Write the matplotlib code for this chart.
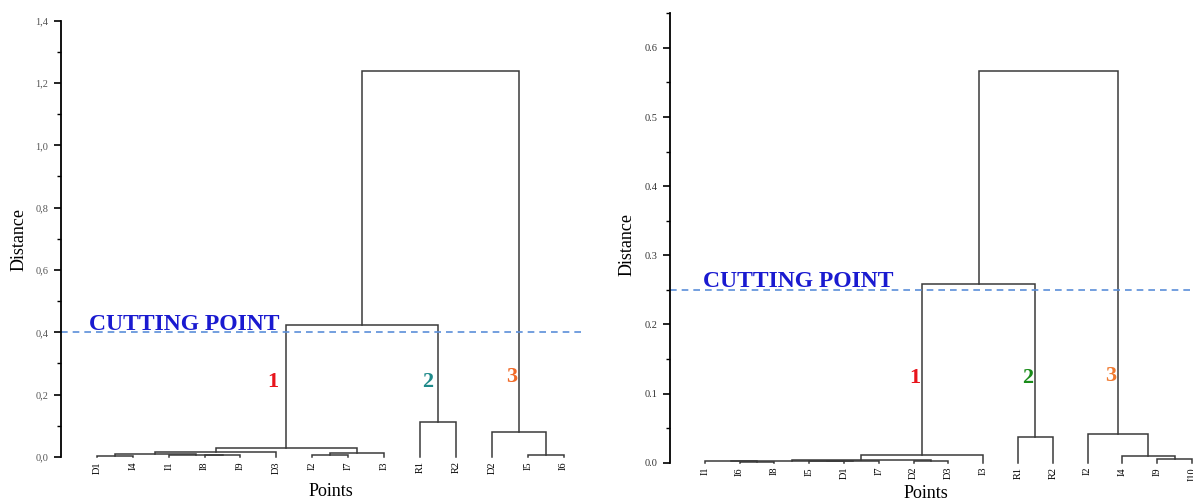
import matplotlib
matplotlib.use("Agg")
import matplotlib.pyplot as plt
from matplotlib.ticker import MultipleLocator, FuncFormatter

plt.rcParams['font.family'] = ['Liberation Serif', 'DejaVu Serif']

# left dendrogram: leaf order and merges (child a, child b, height)
# children are leaf names or the index of an earlier merge
left_leaves = ["D1", "I4", "I1", "I8", "I9", "D3", "I2", "I7", "I3",
               "R1", "R2", "D2", "I5", "I6"]
left_merges = [
    ("D1", "I4", 0.004),
    ("I8", "I9", 0.005),
    ("I1", 1, 0.007),
    (0, 2, 0.009),
    (3, "D3", 0.015),
    ("I2", "I7", 0.005),
    (5, "I3", 0.012),
    (4, 6, 0.029),
    ("R1", "R2", 0.113),
    ("I5", "I6", 0.005),
    ("D2", 9, 0.080),
    (7, 8, 0.424),
    (11, 10, 1.238),
]
left_cut = 0.40

# right dendrogram
right_leaves = ["I1", "I6", "I8", "I5", "D1", "I7", "D2", "D3", "I3",
                "R1", "R2", "I2", "I4", "I9", "I10"]
right_merges = [
    ("I6", "I8", 0.0015),
    ("I1", 0, 0.002),
    ("I5", "D1", 0.002),
    (2, "I7", 0.0025),
    (1, 3, 0.003),
    ("D2", "D3", 0.002),
    (4, 5, 0.004),
    (6, "I3", 0.011),
    ("R1", "R2", 0.0376),
    ("I9", "I10", 0.006),
    ("I4", 9, 0.009),
    ("I2", 10, 0.0415),
    (7, 8, 0.258),
    (12, 11, 0.567),
]
right_cut = 0.25

cluster_names = ["1", "2", "3"]
cluster_colors = ["#e8141c", "#1f8a8a", "#f06a28"]
right_cluster_colors = ["#e8141c", "#1a8c1a", "#f07a30"]


def draw_tree(ax, leaves, merges):
    pos = {name: i + 1 for i, name in enumerate(leaves)}
    nodes = []  # (x, height) of each merge

    def get(c):
        if isinstance(c, str):
            return pos[c], 0.0
        return nodes[c]

    for a, b, h in merges:
        xa, ha = get(a)
        xb, hb = get(b)
        ax.plot([xa, xa, xb, xb], [ha, h, h, hb], color="#3a3a3a",
                lw=1.1, solid_joinstyle="miter", clip_on=False)
        nodes.append(((xa + xb) / 2, h))
    ax.set_xticks(range(1, len(leaves) + 1))
    ax.set_xticklabels(leaves, rotation=90, fontsize=7.5)


def style_axis(ax, ymax, major, minor, fmt, labelcolor):
    for s in ["top", "right", "bottom"]:
        ax.spines[s].set_visible(False)
    ax.spines["left"].set_linewidth(1.3)
    ax.set_ylim(0, ymax)
    ax.yaxis.set_major_locator(MultipleLocator(major))
    ax.yaxis.set_minor_locator(MultipleLocator(minor))
    ax.yaxis.set_major_formatter(FuncFormatter(fmt))
    ax.tick_params(axis="y", which="major", length=5, width=1.2,
                   labelsize=7.5, labelcolor=labelcolor, pad=4)
    ax.tick_params(axis="y", which="minor", length=3, width=1.0)
    ax.tick_params(axis="x", length=0, pad=3)


fig = plt.figure(figsize=(11.93, 5.04), dpi=100)

# left panel
ax1 = fig.add_axes([0.0511, 0.0933, 0.4514, 0.8657])
ax1.set_xlim(0, 15)
draw_tree(ax1, left_leaves, left_merges)
style_axis(ax1, 1.4, 0.2, 0.1,
           lambda v, p: f"{v:.1f}".replace(".", ","), "#555555")
ax1.plot([0, 14.6], [left_cut, left_cut], color="#5b8fd9", lw=1.2,
         dashes=(4, 3))
ax1.text(0.78, 0.407, "CUTTING POINT", color="#1a1ad0", fontsize=17,
         fontweight="bold", va="baseline")
for name, col, x, y in zip(cluster_names, cluster_colors,
                           [5.9, 10.22, 12.56], [0.24, 0.24, 0.257]):
    ax1.text(x, y, name, color=col, fontsize=16, fontweight="bold",
             ha="center", va="center")
fig.text(0.016, 0.524, "Distance", rotation=90, fontsize=13,
         ha="center", va="center")
fig.text(0.277, 0.024, "Points", fontsize=13, ha="center", va="center")

# right panel
ax2 = fig.add_axes([0.5616, 0.0819, 0.4667, 0.8917])
ax2.set_xlim(0, 16)
draw_tree(ax2, right_leaves, right_merges)
style_axis(ax2, 0.65, 0.1, 0.05, lambda v, p: f"{v:.1f}", "#333333")
ax2.plot([0, 16], [right_cut, right_cut], color="#5b8fd9", lw=1.2,
         dashes=(4, 3), clip_on=False)
ax2.text(0.95, 0.254, "CUTTING POINT", color="#1a1ad0", fontsize=17,
         fontweight="bold", va="baseline")
for name, col, x, y in zip(cluster_names, right_cluster_colors,
                           [7.03, 10.27, 12.66], [0.122, 0.122, 0.125]):
    ax2.text(x, y, name, color=col, fontsize=16, fontweight="bold",
             ha="center", va="center")
fig.text(0.5256, 0.514, "Distance", rotation=90, fontsize=13,
         ha="center", va="center")
fig.text(0.776, 0.02, "Points", fontsize=13, ha="center", va="center")

fig.savefig("out.png", dpi=100)
